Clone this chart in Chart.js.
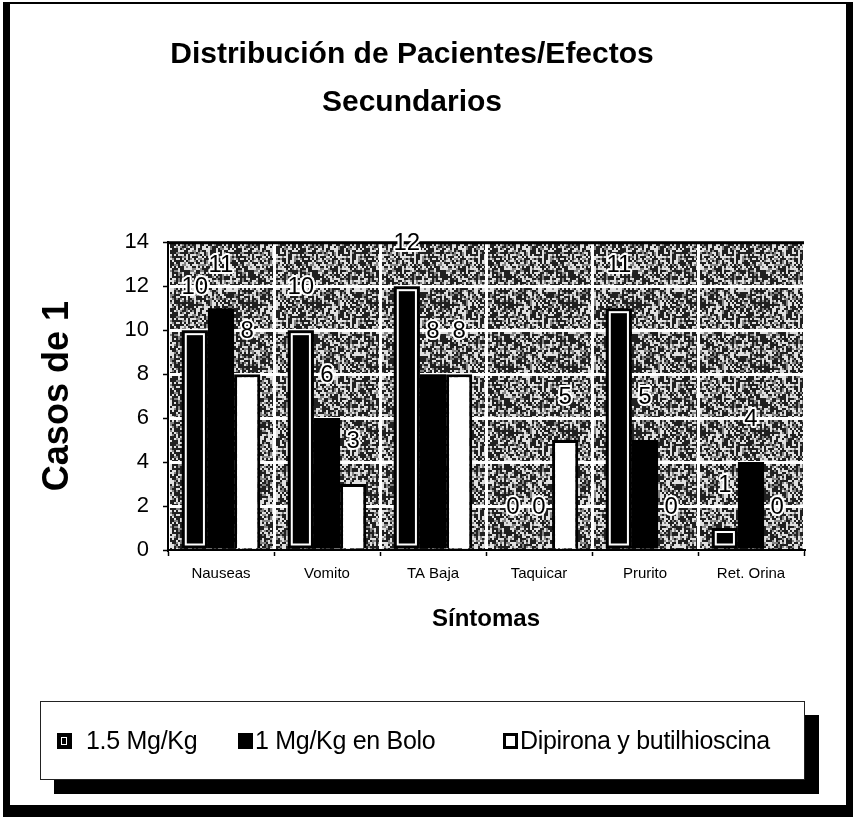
<!DOCTYPE html>
<html>
<head>
<meta charset="utf-8">
<script src="https://cdn.jsdelivr.net/npm/chart.js@4.4.1/dist/chart.umd.min.js"></script>
<style>
html, body { margin: 0; padding: 0; background: #fff; }
body { width: 853px; height: 817px; position: relative; overflow: hidden; font-family: Arial, "Liberation Sans", sans-serif; }
#frame { position: absolute; left: 3px; top: 2px; width: 850px; height: 815px; box-sizing: border-box;
  border-left: 7px solid #000; border-top: 2px solid #000; border-right: 7px solid #000; border-bottom: 12px solid #000; }
#c { position: absolute; left: 0; top: 0; }
#legend { position: absolute; left: 40px; top: 701px; width: 765px; height: 79px; box-sizing: border-box;
  border: 1px solid #222; background: #fff; box-shadow: 14px 14px 0 #000; }
.item { position: absolute; top: 0; height: 77px; display: flex; align-items: center; font-size: 25px; letter-spacing: -0.3px; color: #000; white-space: nowrap; }
.sw { display: inline-block; box-sizing: border-box; width: 15px; height: 16px; position: relative; }
</style>
</head>
<body>
<div id="frame"></div>
<canvas id="c" width="853" height="817"></canvas>
<div id="legend"></div>
<script>
// Distribución de pacientes / efectos secundarios
const categories = ['Nauseas', 'Vomito', 'TA Baja', 'Taquicar', 'Prurito', 'Ret. Orina'];
const seriesNames = ['1.5 Mg/Kg', '1 Mg/Kg en Bolo', 'Dipirona y butilhioscina'];
const dose15 = [10, 10, 12, 0, 11, 1];
const dose1Bolo = [11, 6, 8, 0, 5, 4];
const dipirona = [8, 3, 8, 5, 0, 0];
const yMin = 0, yMax = 14, yStep = 2;

Chart.defaults.font.family = 'Arial, "Liberation Sans", sans-serif';
Chart.defaults.color = '#000';

// grey speckled plot background (scan look)
function makeTexture(ctx) {
    const c = document.createElement('canvas');
    c.width = c.height = 64;
    const g = c.getContext('2d');
    for (let y = 0; y < 64; y += 2) {
        for (let x = 0; x < 64; x += 2) {
            const h = Math.abs(Math.sin(x * 12.9898 + y * 78.233) * 43758.5453) % 1;
            g.fillStyle = h < 0.46 ? '#202020' : h < 0.62 ? '#858585' : '#e0e0e0';
            g.fillRect(x, y, 2, 2);
        }
    }
    return ctx.createPattern(c, 'repeat');
}

const scanPlugin = {
    id: 'scan',
    beforeDraw(chart) {
        const {ctx, chartArea: a} = chart;
        ctx.save();
        ctx.fillStyle = makeTexture(ctx);
        ctx.fillRect(a.left, a.top, a.right - a.left, a.bottom - a.top);
        ctx.restore();
    },
    beforeDatasetsDraw(chart) {
        const {ctx, chartArea: a} = chart;
        ctx.save();
        ctx.fillStyle = '#000';
        ctx.fillRect(a.left, a.top - 1, a.right - a.left, 3);
        ctx.restore();
    },
    afterDatasetsDraw(chart) {
        const ctx = chart.ctx;
        ctx.save();
        // inner white stripe of the first series
        ctx.strokeStyle = '#fff';
        ctx.lineWidth = 2;
        chart.getDatasetMeta(0).data.forEach(el => {
            const {x, y, base, width} = el.getProps(['x', 'y', 'base', 'width'], true);
            if (base - y > 10) ctx.strokeRect(x - width / 2 + 4, y + 4, width - 8, base - y - 8);
        });
        // value labels
        ctx.font = '24px Arial, "Liberation Sans", sans-serif';
        ctx.textAlign = 'center';
        ctx.textBaseline = 'middle';
        ctx.lineJoin = 'round';
        chart.data.datasets.forEach((ds, i) => {
            chart.getDatasetMeta(i).data.forEach((el, j) => {
                const ty = el.y - 43;
                ctx.strokeStyle = '#fff';
                ctx.lineWidth = 4;
                ctx.strokeText(String(ds.data[j]), el.x, ty);
                ctx.fillStyle = '#000';
                ctx.fillText(String(ds.data[j]), el.x, ty);
            });
        });
        ctx.restore();
    }
};

new Chart(document.getElementById('c'), {
    type: 'bar',
    data: {
        labels: categories,
        datasets: [
            {label: seriesNames[0], data: dose15, backgroundColor: '#000', borderColor: '#000', borderWidth: 0},
            {label: seriesNames[1], data: dose1Bolo, backgroundColor: '#000', borderColor: '#000', borderWidth: 0},
            {label: seriesNames[2], data: dipirona, backgroundColor: '#fff', borderColor: '#000', borderWidth: 3}
        ]
    },
    options: {
        responsive: false,
        animation: false,
        devicePixelRatio: 1,
        categoryPercentage: 0.74,
        barPercentage: 1,
        layout: {padding: {left: 20, right: 49, top: 10, bottom: 177}},
        plugins: {
            legend: {display: false},
            tooltip: {enabled: false},
            title: {
                display: true,
                text: ['Distribución de Pacientes/Efectos', 'Secundarios'],
                font: {size: 30, weight: 'bold', lineHeight: 1.587},
                color: '#000',
                padding: {top: 21, bottom: 116}
            }
        },
        scales: {
            x: {
                grid: {color: '#fff', lineWidth: 3, tickColor: '#000', tickLength: 6, tickWidth: 1.5, offset: true},
                border: {display: true, color: '#000', width: 2},
                ticks: {font: {size: 15}, color: '#000', padding: 9, maxRotation: 0},
                title: {display: true, text: 'Síntomas', font: {size: 24, weight: 'bold'}, color: '#000', padding: {top: 0, bottom: 6}},
                afterFit: s => { s.height = 90; }
            },
            y: {
                min: yMin, max: yMax,
                grid: {color: '#fff', lineWidth: 3, tickColor: '#000', tickLength: 5, tickWidth: 1.5},
                border: {display: true, color: '#000', width: 2},
                ticks: {stepSize: yStep, font: {size: 22}, color: '#000', padding: 14},
                title: {display: true, text: 'Casos de 1', font: {size: 36, weight: 'bold'}, color: '#000', padding: {top: 16, bottom: 0}},
                afterFit: s => { s.width = 148; }
            }
        }
    },
    plugins: [scanPlugin]
});

// legend (HTML, shadowed box like the original)
const legendPos = [{sw: 16, gap: 14}, {sw: 197, gap: 2}, {sw: 462, gap: 2}];
const legendSwatch = [
    'background:#000;',
    'background:#000;',
    'background:#fff;border:3px solid #000;'
];
const legendEl = document.getElementById('legend');
seriesNames.forEach((name, i) => {
    const it = document.createElement('div');
    it.className = 'item';
    it.style.left = legendPos[i].sw + 'px';
    const sw = document.createElement('span');
    sw.className = 'sw';
    sw.style.cssText = legendSwatch[i] + 'margin-right:' + legendPos[i].gap + 'px;';
    if (i === 0) {
        const dot = document.createElement('span');
        dot.style.cssText = 'position:absolute;left:4px;top:4px;width:4px;height:6px;border:1px solid #fff;';
        sw.appendChild(dot);
    }
    it.appendChild(sw);
    it.appendChild(document.createTextNode(name));
    legendEl.appendChild(it);
});
</script>
</body>
</html>
